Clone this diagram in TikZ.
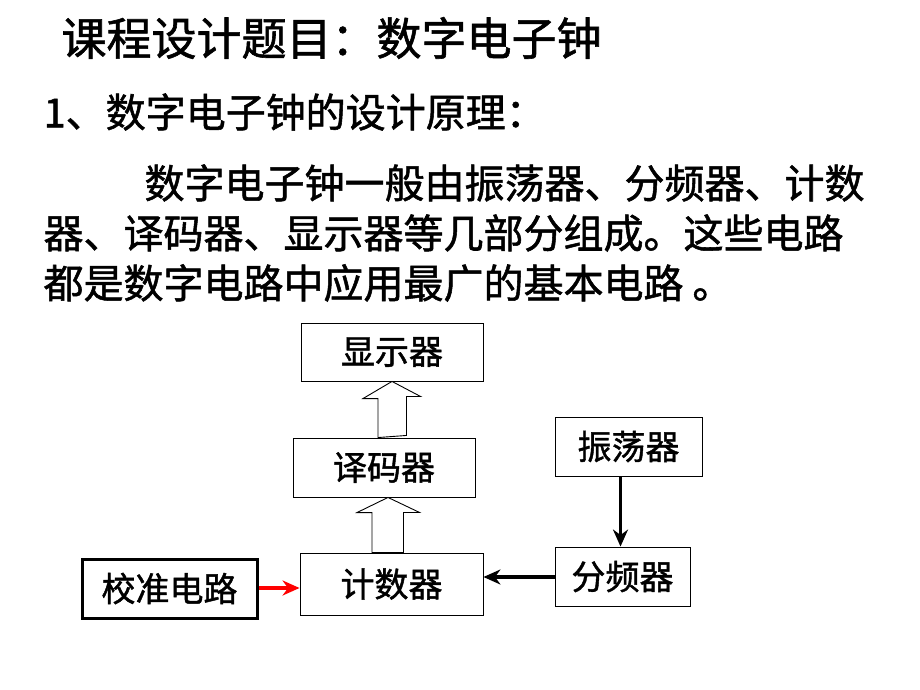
\documentclass[tikz,border=0pt]{standalone}
\usepackage{fontspec}
\newfontface\cjk{Noto Sans CJK SC}[FakeBold=1.3]
\usetikzlibrary{arrows.meta,calc}

\begin{document}
\begin{tikzpicture}[x=1pt,y=-1pt]

	\tikzstyle block=[draw,line width=0.9pt,inner sep=0pt,minimum height=59pt,font=\cjk\fontsize{34}{34}\selectfont];
	\tikzstyle hollow=[draw,line width=0.9pt,fill=white];
	\tikzstyle signal=[-{Stealth[length=17pt,width=15pt]},line width=3.5pt];
	\tikzstyle text line=[anchor=west,font=\cjk\fontsize{40}{40}\selectfont];

	\useasboundingbox (0,0) rectangle (920,690);

	% headings and text
	\node[text line,font=\cjk\fontsize{45}{45}\selectfont] (title) at (58,38) {课程设计题目：数字电子钟};
	\node[text line] (head) at (40,112) {1、数字电子钟的设计原理：};
	\foreach \i/\x/\y/\t in {1/141/183/数字电子钟一般由振荡器、分频器、计数,
			2/40/233/器、译码器、显示器等几部分组成。这些电路,
			3/40/283/都是数字电路中应用最广的基本电路 。}
		\node[text line] (line\i) at (\x,\y) {\t};

	% blocks
	\node[block,minimum width=182pt,minimum height=58pt] (display) at (392,352) {显示器};
	\node[block,minimum width=182pt] (decoder) at (384,467.5) {译码器};
	\node[block,minimum width=183pt,minimum height=62pt] (counter) at (391.5,584) {计数器};
	\node[block,minimum width=175pt,line width=3pt] (calib) at (169.5,588.5) {校准电路};
	\node[block,minimum width=147pt] (osc) at (628.5,446.5) {振荡器};
	\node[block,minimum width=135pt] (divider) at (622.5,576.5) {分频器};

	% hollow arrows
	\coordinate (d1) at ($(decoder.north)+(8,0)$);
	\path[hollow] (d1) ++(-14,0) -- ++(0,-39) -- ++(-15,0) -- (d1 |- display.south) -- ++(28.5,15) -- ++(-14,0) -- ++(0,39) -- cycle;
	\coordinate (d2) at ($(counter.north)+(-3.5,0)$);
	\path[hollow] (d2) ++(-16,0) -- ++(0,-40) -- ++(-15,0) -- (d2 |- decoder.south) -- ++(31.5,15) -- ++(-16,0) -- ++(0,40) -- cycle;

	% signal arrows
	\draw[signal,red] (calib.east |- 0,588) -- (counter.west |- 0,588);
	\draw[signal] (divider.west |- 0,577) -- (counter.east |- 0,577);
	\coordinate (o1) at ($(osc.south)+(-8,0)$);
	\draw[signal] (o1) -- (o1 |- divider.north);

\end{tikzpicture}
\end{document}
